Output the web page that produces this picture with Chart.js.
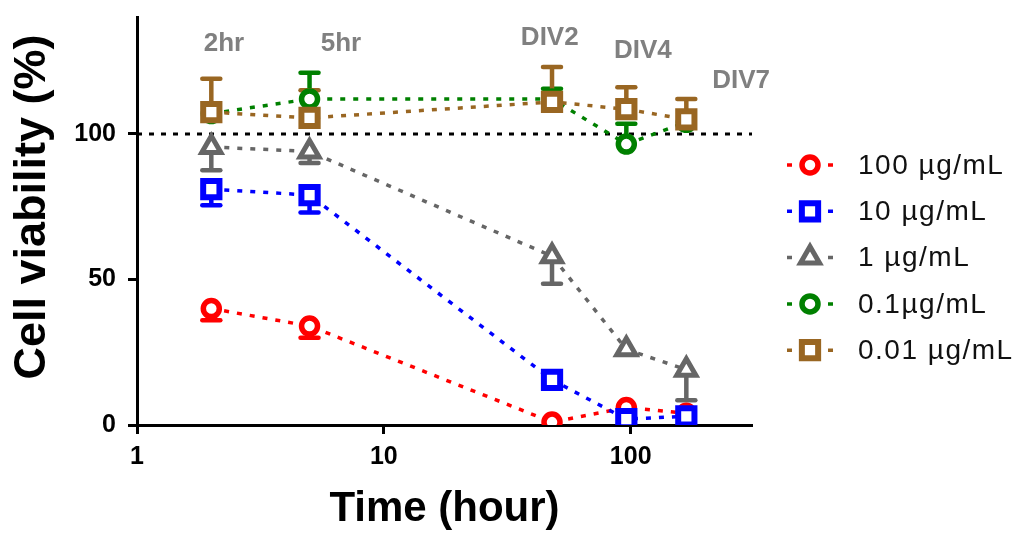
<!DOCTYPE html>
<html><head><meta charset="utf-8">
<script src="https://cdn.jsdelivr.net/npm/chart.js@4"></script>
<style>html,body{margin:0;padding:0;background:#fff;overflow:hidden;}</style>
</head><body>
<canvas id="c" width="1028" height="538"></canvas>
<script>
// ---- data ----
const timePoints = [2, 5, 48, 96, 168];
const seriesNames = ['100 µg/mL', '10 µg/mL', '1 µg/mL', '0.1µg/mL', '0.01 µg/mL'];
const v100 = [40, 34, 1, 6, 4];
const v10 = [81, 79, 15.5, 2, 3];
const v1 = [95.5, 94, 58, 26, 19];
const v01 = [107, 112, 112, 96.5, 104];
const v001 = [107.5, 105.5, 111, 108.5, 105];
// signed error bars: negative = drawn downward, positive = upward
const e100 = [-4, -4, 0, 0, 0];
const e10 = [-5.5, -6, 0, 0, 0];
const e1 = [-8, -4, -9.5, 0, -10.5];
const e01 = [0, 9, 3.5, 7, 0];
const e001 = [11.5, 9.5, 12, 7.5, 7];
const xTicks = [1, 10, 100];
const yTicks = [0, 50, 100];
const xRange = [1, 310];
const yRange = [0, 140];
const refValue = 100;
const phaseLabels = ['2hr', '5hr', 'DIV2', 'DIV4', 'DIV7'];
const phaseX = [2.25, 6.7, 47, 112, 280];
const phaseY = [131, 131, 133, 128.7, 118.4];
const yTitle = 'Cell viability (%)';
const xTitle = 'Time (hour)';

const colors = ['#ff0000', '#0000ff', '#666666', '#008000', '#996622'];
const styles = ['circle', 'rect', 'triangle', 'circle', 'rect'];
const radii = [8, 11.5, 11, 8, 11.5];
const bws = [5.5, 6, 5, 5.5, 6];
const values = [v100, v10, v1, v01, v001];
const errs = [e100, e10, e1, e01, e001];

const FONT = "'Liberation Sans', Arial, sans-serif";

const datasets = values.map((vals, i) => ({
  label: seriesNames[i],
  data: timePoints.map((t, j) => ({x: t, y: vals[j]})),
  err: errs[i],
  borderColor: colors[i],
  backgroundColor: '#ffffff',
  pointBackgroundColor: '#ffffff',
  pointBorderColor: colors[i],
  pointStyle: styles[i],
  pointRadius: radii[i],
  pointBorderWidth: bws[i],
  borderWidth: 3.5,
  borderDash: [5, 8],
  fill: false,
  tension: 0,
  order: 4 - i
}));
datasets.push({
  label: 'ref',
  data: [{x: xRange[0], y: refValue}, {x: xRange[1], y: refValue}],
  borderColor: '#000',
  borderWidth: 3,
  borderDash: [5, 7],
  pointRadius: 0,
  fill: false,
  order: 20
});

const errorBars = {
  id: 'errorBars',
  beforeDatasetsDraw(chart) {
    const ctx = chart.ctx, xs = chart.scales.x, ys = chart.scales.y;
    chart.data.datasets.forEach((ds) => {
      if (!ds.err) return;
      ctx.save();
      ctx.strokeStyle = ds.borderColor;
      ctx.lineWidth = 4.5;
      ds.data.forEach((p, j) => {
        const e = ds.err[j];
        if (!e) return;
        const x = xs.getPixelForValue(p.x);
        const y0 = ys.getPixelForValue(p.y);
        const y1 = ys.getPixelForValue(p.y + e);
        ctx.beginPath();
        ctx.moveTo(x, y0); ctx.lineTo(x, y1);
        ctx.stroke();
        ctx.beginPath();
        ctx.lineCap = 'round';
        ctx.moveTo(x - 9, y1); ctx.lineTo(x + 9, y1);
        ctx.stroke();
        ctx.lineCap = 'butt';
      });
      ctx.restore();
    });
  }
};

const textPlugin = {
  id: 'textPlugin',
  afterDraw(chart) {
    const ctx = chart.ctx, xs = chart.scales.x, ys = chart.scales.y;
    ctx.save();
    ctx.fillStyle = '#808080';
    ctx.font = "bold 26px " + FONT;
    ctx.textAlign = 'center';
    ctx.textBaseline = 'middle';
    phaseLabels.forEach((t, i) => {
      ctx.fillText(t, xs.getPixelForValue(phaseX[i]), ys.getPixelForValue(phaseY[i]));
    });
    // y axis title
    ctx.fillStyle = '#000';
    ctx.font = "bold 45px " + FONT;
    ctx.translate(33, 207);
    ctx.rotate(-Math.PI / 2);
    ctx.fillText(yTitle, 0, 0);
    ctx.restore();
  }
};

const customLegend = {
  id: 'customLegend',
  afterDraw(chart) {
    const ctx = chart.ctx;
    const mx = chart.chartArea.right + 58;
    const y0 = 165, dy = 46.3;
    chart.data.datasets.forEach((ds, i) => {
      if (!ds.err) return;
      const y = y0 + i * dy;
      ctx.save();
      ctx.strokeStyle = ds.borderColor;
      ctx.lineWidth = 3.5;
      ctx.beginPath();
      ctx.moveTo(mx - 23, y); ctx.lineTo(mx - 18, y);
      ctx.moveTo(mx + 18, y); ctx.lineTo(mx + 23, y);
      ctx.stroke();
      ctx.fillStyle = '#ffffff';
      ctx.lineWidth = ds.pointBorderWidth;
      const opts = {pointStyle: ds.pointStyle, radius: ds.pointRadius, borderWidth: ds.pointBorderWidth, rotation: 0};
      if (Chart.helpers && Chart.helpers.drawPoint) {
        Chart.helpers.drawPoint(ctx, opts, mx, y);
      }
      ctx.fillStyle = '#111';
      ctx.font = "28px " + FONT;
      try { ctx.letterSpacing = '1.5px'; } catch (e) {}
      ctx.textAlign = 'left';
      ctx.textBaseline = 'middle';
      ctx.fillText(ds.label, mx + 48, y + 1);
      ctx.restore();
    });
  }
};

new Chart(document.getElementById('c'), {
  type: 'line',
  data: {datasets},
  options: {
    responsive: false,
    animation: false,
    devicePixelRatio: 1,
    layout: {padding: {top: 15, right: 276, left: 0, bottom: 0}},
    plugins: {legend: {display: false}, tooltip: {enabled: false}},
    scales: {
      x: {
        type: 'logarithmic',
        min: xRange[0], max: xRange[1],
        afterBuildTicks: (s) => { s.ticks = xTicks.map(v => ({value: v})); },
        afterFit: (s) => { s.height = 113; s.paddingLeft = 0; s.paddingRight = 0; },
        ticks: {
          callback: (v) => String(v),
          font: {family: FONT, size: 25, weight: 'bold'},
          color: '#000', padding: 8, autoSkip: false, maxRotation: 0
        },
        grid: {display: true, drawOnChartArea: false, tickLength: 9, tickWidth: 3, tickColor: '#000'},
        border: {display: true, width: 3, color: '#000'},
        title: {display: true, text: xTitle, color: '#000',
          font: {family: FONT, size: 42, weight: 'bold'}, padding: {top: 0, bottom: 3}}
      },
      y: {
        min: yRange[0], max: yRange[1],
        afterBuildTicks: (s) => { s.ticks = yTicks.map(v => ({value: v})); },
        afterFit: (s) => { s.width = 137; s.paddingTop = 0; s.paddingBottom = 0; },
        ticks: {
          callback: (v) => String(v),
          font: {family: FONT, size: 25, weight: 'bold'},
          color: '#000', padding: 12
        },
        grid: {display: true, drawOnChartArea: false, tickLength: 9, tickWidth: 3, tickColor: '#000'},
        border: {display: true, width: 3, color: '#000'}
      }
    }
  },
  plugins: [errorBars, textPlugin, customLegend]
});
</script>
</body></html>
